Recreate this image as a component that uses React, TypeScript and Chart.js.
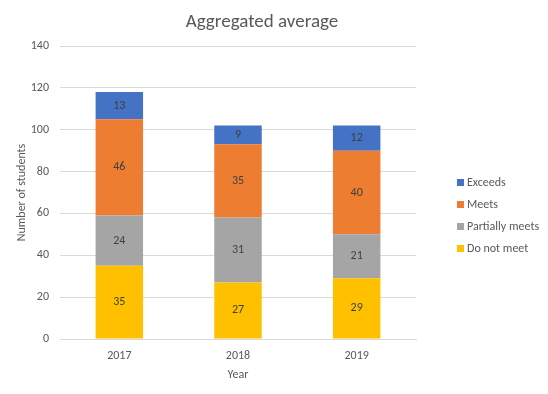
import React, { useEffect, useRef } from "react";
import { Chart, registerables } from "chart.js";

Chart.register(...registerables);

const categories = ["2017", "2018", "2019"];
const doNotMeet = [35, 27, 29];
const partiallyMeets = [24, 31, 21];
const meets = [46, 35, 40];
const exceeds = [13, 9, 12];
const seriesNames = ["Do not meet", "Partially meets", "Meets", "Exceeds"];
const seriesColors = ["#FFC000", "#A5A5A5", "#ED7D31", "#4472C4"];
const titleText = "Aggregated average";
const yTitle = "Number of students";
const xTitle = "Year";

const FONT = "Calibri, Carlito, 'Open Sans', 'Noto Sans', sans-serif";

const overlay = {
  id: "overlay",
  afterDatasetsDraw(chart: any) {
    const ctx = chart.ctx;
    const ca = chart.chartArea;
    ctx.save();
    // data labels
    ctx.fillStyle = "#404040";
    ctx.font = `12px ${FONT}`;
    ctx.textAlign = "center";
    ctx.textBaseline = "middle";
    chart.data.datasets.forEach((ds: any, i: number) => {
      const meta = chart.getDatasetMeta(i);
      meta.data.forEach((bar: any, j: number) => {
        const y = (bar.y + bar.base) / 2;
        ctx.fillText(String(ds.data[j]), bar.x, y);
      });
    });
    // title
    ctx.fillStyle = "#595959";
    ctx.font = `19px ${FONT}`;
    ctx.fillText(titleText, 262, 22);
    // axis titles
    ctx.font = `12px ${FONT}`;
    ctx.fillText(xTitle, (ca.left + ca.right) / 2, 375);
    ctx.save();
    ctx.translate(22, (ca.top + ca.bottom) / 2);
    ctx.rotate(-Math.PI / 2);
    ctx.fillText(yTitle, 0, 0);
    ctx.restore();
    // legend
    ctx.textAlign = "left";
    const items = [3, 2, 1, 0];
    items.forEach((k, idx) => {
      const y = 182 + idx * 22;
      ctx.fillStyle = seriesColors[k];
      ctx.fillRect(457, y - 3, 7, 7);
      ctx.fillStyle = "#595959";
      ctx.fillText(seriesNames[k], 467, y + 1);
    });
    ctx.restore();
  },
};

export default function App() {
  const ref = useRef<HTMLCanvasElement>(null);
  useEffect(() => {
    const values = [doNotMeet, partiallyMeets, meets, exceeds];
    const chart = new Chart(ref.current!, {
      type: "bar",
      data: {
        labels: categories,
        datasets: values.map((d, i) => ({
          label: seriesNames[i],
          data: d,
          backgroundColor: seriesColors[i],
          borderWidth: 0,
          barPercentage: 0.4,
          categoryPercentage: 1,
        })),
      },
      plugins: [overlay],
      options: {
        animation: false,
        responsive: false,
        layout: { padding: { top: 46, right: 132, left: 0, bottom: 0 } },
        plugins: {
          legend: { display: false },
          title: { display: false },
          tooltip: { enabled: false },
        },
        scales: {
          x: {
            stacked: true,
            grid: { display: false },
            border: { display: true, color: "#D9D9D9" },
            ticks: { color: "#595959", font: { size: 12, family: FONT }, padding: 2 },
            afterFit(scale: any) {
              scale.height = 55;
            },
          },
          y: {
            stacked: true,
            min: 0,
            max: 140,
            ticks: { stepSize: 20, color: "#595959", font: { size: 12, family: FONT }, padding: 11 },
            grid: { color: "#D9D9D9", drawTicks: false },
            border: { display: false },
            afterFit(scale: any) {
              scale.width = 60;
            },
          },
        },
      },
    });
    return () => chart.destroy();
  }, []);
  return (
    <div style={{ position: "fixed", left: 0, top: 0, width: 548, height: 394, background: "#fff" }}>
      <canvas ref={ref} width={548} height={394} />
    </div>
  );
}
